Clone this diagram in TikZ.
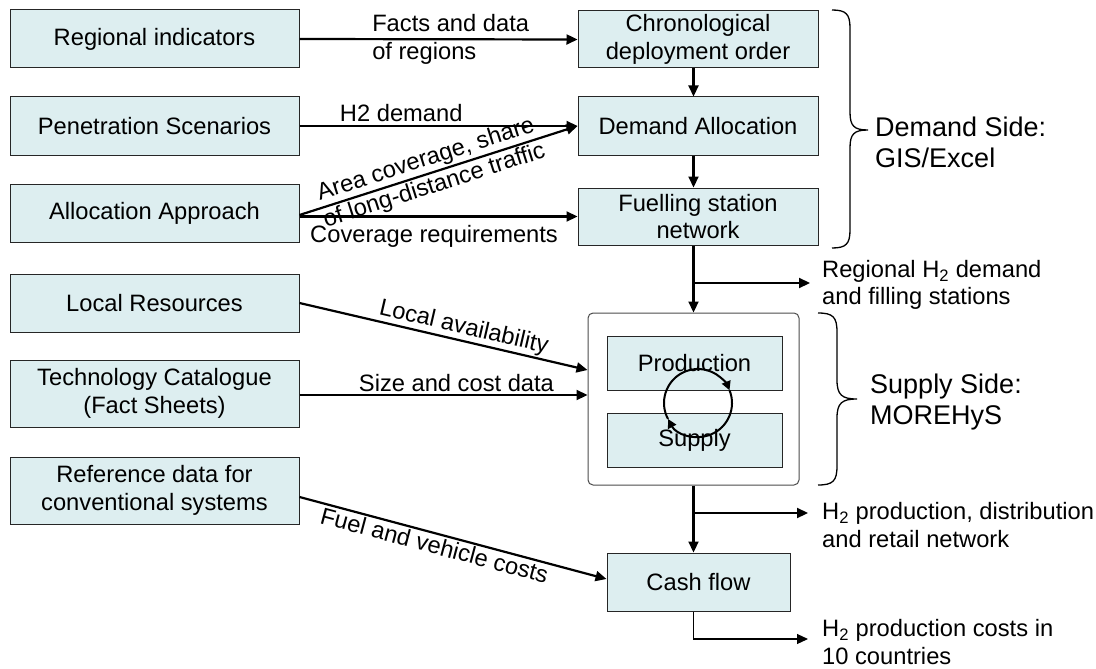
\documentclass[tikz,border=0pt]{standalone}
\usepackage{fontspec}
\setmainfont{Liberation Sans}
\usetikzlibrary{arrows.meta}
\definecolor{boxfill}{RGB}{221,238,240}
\begin{document}
\begin{tikzpicture}[x=1pt,y=-1pt,
  every node/.style={font=\fontsize{23.7}{27.5}\selectfont},
  box/.style={draw=black!85, line width=1pt, fill=boxfill, align=center,
    inner sep=0pt, minimum width=289pt, minimum height=58pt},
  arr/.style={line width=2.2pt, -{Triangle[length=11pt,width=10pt]}},
  thinarr/.style={line width=1.2pt, -{Triangle[length=11pt,width=10pt]}},
  looparr/.style={line width=2pt, -{Triangle[length=9pt,width=9pt]}},
  lbl/.style={inner sep=2pt, align=center},
  outlbl/.style={anchor=west, align=left, inner sep=0pt},
  sidelbl/.style={anchor=west, align=left, inner sep=0pt,
    font=\fontsize{27}{31}\selectfont},
  bracepath/.style={line width=1.3pt}
]
\useasboundingbox (0,0) rectangle (1096,669);

% input boxes
\node[box] (reg)   at (154.5,39)  {Regional indicators};
\node[box] (pen)   at (154.5,126) {Penetration Scenarios};
\node[box] (alloc) at (154.5,213) {Allocation Approach};
\node[box] (local) at (154.5,303) {Local Resources};
\node[box, minimum height=67pt] (tech) at (154.5,393.5) {Technology Catalogue\\(Fact Sheets)};
\node[box, minimum height=67pt] (ref)  at (154.5,490.5) {Reference data for\\conventional systems};

% demand side chain
\node[box, minimum width=240pt, minimum height=57pt] (chrono) at (698,39.5) {Chronological\\deployment order};
\node[box, minimum width=240pt] (dalloc) at (698,126) {Demand Allocation};
\node[box, minimum width=240pt, minimum height=57pt] (fuel) at (698,216.5) {Fuelling station\\network};

% supply side model
\node[draw=black!70, line width=1pt, rounded corners=5pt, fill=white,
  minimum width=211pt, minimum height=172pt, inner sep=0pt] (big) at (693.5,399) {};
\node[box, minimum width=175pt, minimum height=54pt] (prod) at (694.5,363) {Production};
\node[box, minimum width=175pt, minimum height=54pt] (sup)  at (694.5,440) {Supply};

\node[box, minimum width=183pt] (cash) at (698.5,582) {Cash flow};

% production/supply iteration loop
\draw[looparr] (698,403) ++(-208:34) arc[start angle=-208, end angle=-22, radius=34];
\draw[looparr] (698,403) ++(-22:34) arc[start angle=-22, end angle=152, radius=34];

% inputs
\draw[arr] (reg.east) -- (chrono.west)
  node[pos=0.247, anchor=west, align=left, inner sep=3pt] {Facts and data\\of regions};
\draw[arr] (pen.east) -- (dalloc.west)
  node[lbl, above, pos=0.366, inner sep=3pt] {H2 demand};
\draw[arr] ([yshift=-2pt]alloc.east) -- (dalloc.west)
  node[pos=0.47, sloped, align=center, inner sep=0pt] {Area coverage, share\\of long-distance traffic};
\draw[arr] (alloc.east |- fuel.west) -- (fuel.west)
  node[below=8pt, pos=0.484, inner sep=0pt] {Coverage requirements};
\draw[arr] (local.east) -- ([yshift=29pt]big.west)
  node[pos=0.56, sloped, above, inner sep=1pt] {Local availability};
\draw[arr] ([yshift=-1.5pt]tech.east) -- ([yshift=-1.5pt]tech.east -| big.west)
  node[pos=0.545, above, inner sep=2pt] {Size and cost data};
\draw[arr] ([yshift=-6.5pt]ref.east) -- ([yshift=3pt]cash.west)
  node[pos=0.45, sloped, below, inner sep=2pt] {Fuel and vehicle costs};

% main column
\draw[arr] (chrono.south -| big.north) -- (dalloc.north -| big.north);
\draw[arr] (dalloc.south -| big.north) -- (fuel.north -| big.north);
\draw[arr] (fuel.south -| big.north) -- (big.north);
\draw[arr] (big.south) -- (cash.north -| big.south);

% outputs
\coordinate (o1) at (810,283);
\coordinate (o2) at (808,513);
\coordinate (o3) at (808,639);
\draw[arr] (o1 -| big.north) -- (o1);
\draw[arr] (o2 -| big.south) -- (o2);
\draw[thinarr] (cash.south -| big.south) |- (o3);
\node[outlbl] at (822,285) {Regional H\textsubscript{2} demand\\and filling stations};
\node[outlbl] at (822,525) {H\textsubscript{2} production, distribution\\and retail network};
\node[outlbl] at (822,642) {H\textsubscript{2} production costs in\\10 countries};

% braces
\draw[bracepath] (832,10) .. controls (846,10) and (850,14) .. (850,28) -- (850,112)
  .. controls (850,126) and (854,130) .. (868,130)
  .. controls (854,130) and (850,134) .. (850,148) -- (850,230)
  .. controls (850,244) and (846,248) .. (832,248);
\draw[bracepath] (818,313) .. controls (833,313) and (837,317) .. (837,332) -- (837,380)
  .. controls (837,395) and (842,399) .. (857,399)
  .. controls (842,399) and (837,403) .. (837,418) -- (837,466)
  .. controls (837,481) and (833,485) .. (818,485);
\node[sidelbl] at (875,142) {Demand Side:\\GIS/Excel};
\node[sidelbl] at (870,402) {Supply Side:\\MOREHyS};
\end{tikzpicture}
\end{document}
